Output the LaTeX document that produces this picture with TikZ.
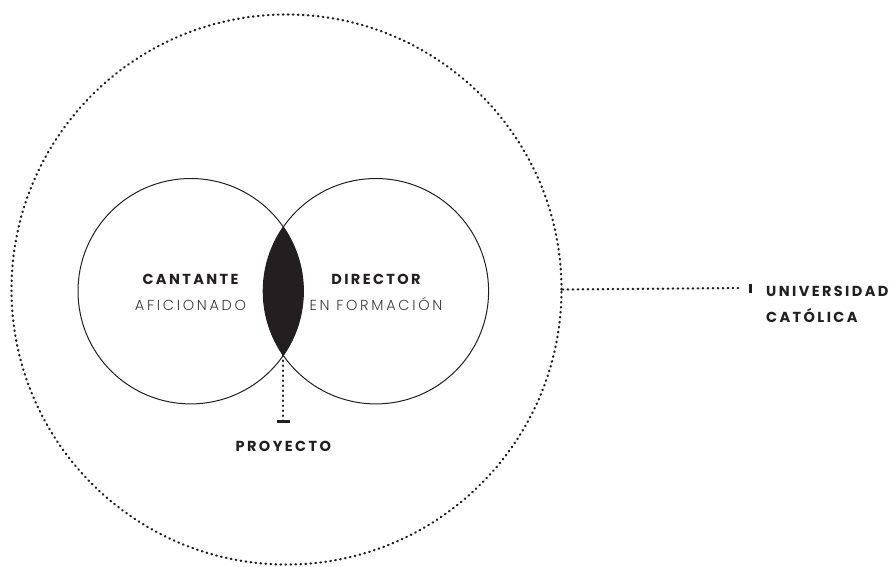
\documentclass[tikz,border=0pt]{standalone}
\usepackage{fontspec}
\usetikzlibrary{calc}
\setmainfont{Poppins}
\newfontfamily\boldlab{Poppins}[LetterSpace=16.5]
\newfontfamily\lightlab{Poppins Light}[LetterSpace=18.5]
\definecolor{ink}{HTML}{231F20}
\definecolor{soft}{HTML}{3A3A3C}
\tikzset{
  dotline/.style={draw=ink, line width=2.2pt, line cap=round, dash pattern=on 0.7pt off 4.3pt},
  ring/.style={circle, draw=ink, line width=1pt, inner sep=0pt},
  strong/.style={anchor=base, inner sep=0pt, text=ink, font=\boldlab\bfseries\fontsize{14.5}{17}\selectfont},
  thin/.style={anchor=base, inner sep=0pt, text=soft, font=\lightlab\fontsize{14.5}{17}\selectfont},
  bar/.style={draw=ink, line width=2.2pt}
}
\begin{document}
\begin{tikzpicture}[x=1pt,y=-1pt]
\useasboundingbox (0,0) rectangle (896,567);
% outer dotted circle
\node[circle, inner sep=0pt, minimum size=550pt, dotline] (uni) at (286.5,289.5) {};
% two circles
\node[ring, minimum size=225.4pt] (cant) at (190.7,291.2) {};
\node[ring, minimum size=225.4pt] (dir) at (375.9,291.2) {};
% lens
\begin{scope}
  \clip (190.7,291.2) circle (112.7);
  \fill[ink] (375.9,291.2) circle (112.7);
\end{scope}
\coordinate (lensbot) at (283.3,355.4);
\coordinate (ptick) at (283.3,421.5);
\draw[dotline] (lensbot) -- (ptick);
\draw[bar] ($(ptick)+(-6.3,0)$) -- ($(ptick)+(6.3,0)$);
% university connector
\coordinate (utick) at (750.5,288);
\draw[dotline] (uni.east) -- ($(utick)+(-8,0)$);
\draw[bar] ($(utick)+(0,-4.5)$) -- ($(utick)+(0,4.5)$);
% labels
\node[strong] (t1) at (190.5,284.3) {CANTANTE};
\node[thin] (t2) at (190.5,310.7) {AFICIONADO};
\node[strong] (t3) at (376,284.3) {DIRECTOR};
\node[thin] (t4) at (376,310.7) {EN FORMACIÓN};
\node[strong] (t5) at (283.3,451.7) {PROYECTO};
\node[strong, anchor=base west] (t6) at (766,296) {UNIVERSIDAD};
\node[strong, anchor=base west] (t7) at (766,322.7) {CATÓLICA};
\end{tikzpicture}
\end{document}
